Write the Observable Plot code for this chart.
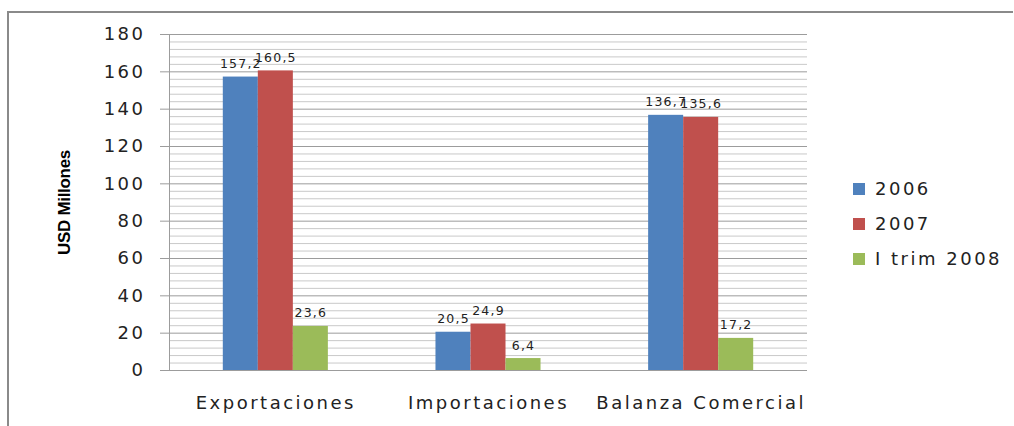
<!DOCTYPE html>
<html>
<head>
<meta charset="utf-8">
<script src="https://cdn.jsdelivr.net/npm/d3@7"></script>
<script src="https://cdn.jsdelivr.net/npm/@observablehq/plot@0.6"></script>
<style>
  html, body { margin: 0; padding: 0; background: #fff; }
  #wrap { position: relative; width: 1014px; height: 426px; overflow: hidden; }
  #border { position: absolute; left: 7px; top: 11px; right: 1px; bottom: -10px;
            border-top: 2px solid #8a8a8a; border-left: 2px solid #8a8a8a; }
  #chart { position: absolute; left: 0; top: 0; }
  #chart svg text { fill: #222; }
  g[aria-label="y-axis tick label"] text { letter-spacing: 2.5px; font-size: 18px; }
  g[aria-label="x-axis tick label"] text { letter-spacing: 2.5px; font-size: 18px; }
  g[aria-label="y-axis label"] text { font-family: "Liberation Sans", Arial, sans-serif; font-weight: bold; font-size: 17px; letter-spacing: -0.3px; fill: #000 !important; }
  g[aria-label="text"] text { letter-spacing: 1.2px; font-size: 12.5px; }
  #legend { position: absolute; left: 853px; top: 171px; font-family: "DejaVu Sans", sans-serif;
            font-size: 18px; letter-spacing: 2.5px; color: #222; }
  #legend .item { display: flex; align-items: center; height: 35px; }
  #legend .sw { width: 12px; height: 12px; margin-right: 10px; }
</style>
</head>
<body>
<div id="wrap">
  <div id="border"></div>
  <div id="chart"></div>
  <div id="legend"></div>
</div>
<script>
const categories = ["Exportaciones", "Importaciones", "Balanza Comercial"];
const series = ["2006", "2007", "I trim 2008"];
const values2006 = [157.2, 20.5, 136.7];
const values2007 = [160.5, 24.9, 135.6];
const valuesItrim2008 = [23.6, 6.4, 17.2];
const colors = ["#4F81BD", "#C0504D", "#9BBB59"];
const yTicks = [0, 20, 40, 60, 80, 100, 120, 140, 160, 180];
const yMinorStep = 4;

// group layout inside each category band (fractions of the band)
const groupPadding = 0.253;
const barWidth = (1 - 2 * groupPadding) / series.length;

const seriesValues = [values2006, values2007, valuesItrim2008];
const data = categories.flatMap((c, i) => series.map((s, j) => ({
  category: c, series: s, value: seriesValues[j][i],
  x1: i + groupPadding + j * barWidth,
  x2: i + groupPadding + (j + 1) * barWidth
})));
const minorTicks = d3.range(0, 181, yMinorStep).filter(v => v % 20 !== 0);
const categoryCenters = categories.map((c, i) => i + 0.5);
const fmt = v => v.toFixed(1).replace(".", ",");

const chart = Plot.plot({
  width: 1014,
  height: 426,
  marginLeft: 169,
  marginRight: 207,
  marginTop: 34,
  marginBottom: 56,
  style: {fontFamily: "DejaVu Sans", fontSize: "17px", background: "transparent", color: "#222"},
  x: {type: "linear", domain: [0, categories.length], label: null},
  y: {domain: [0, 180], label: null},
  color: {domain: series, range: colors},
  marks: [
    Plot.ruleY(minorTicks, {stroke: "#c9c9c9", strokeWidth: 1}),
    Plot.ruleY(yTicks, {stroke: "#9c9c9c", strokeWidth: 1}),
    Plot.ruleX([0], {stroke: "#9c9c9c"}),
    Plot.axisY({ticks: yTicks, tickSize: 9, tickPadding: 15, stroke: "#9c9c9c",
                label: "USD Millones", labelAnchor: "center", labelOffset: 112, labelArrow: "none"}),
    Plot.axisX({ticks: categoryCenters, tickFormat: v => categories[Math.floor(v)], tickSize: 0, tickPadding: 26, label: null}),
    Plot.rectY(data, {x1: "x1", x2: "x2", y: "value", fill: "series"}),
    Plot.text(data, {x: d => (d.x1 + d.x2) / 2, y: "value", text: d => fmt(d.value), lineAnchor: "bottom", dy: -9, fill: "#222"})
  ]
});
document.getElementById("chart").appendChild(chart);

const legend = document.getElementById("legend");
series.forEach((s, j) => {
  const item = document.createElement("div");
  item.className = "item";
  const sw = document.createElement("div");
  sw.className = "sw";
  sw.style.background = colors[j];
  const label = document.createElement("span");
  label.textContent = s;
  item.appendChild(sw);
  item.appendChild(label);
  legend.appendChild(item);
});
</script>
</body>
</html>
